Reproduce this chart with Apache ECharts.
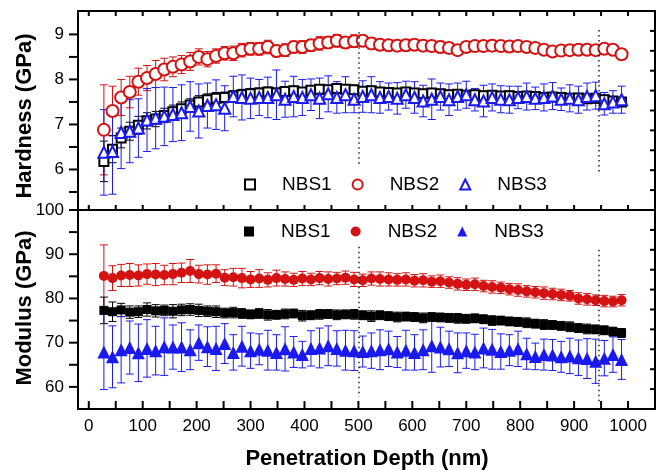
<!DOCTYPE html>
<html>
<head>
<meta charset="utf-8">
<script src="https://cdn.jsdelivr.net/npm/echarts@6/dist/echarts.min.js"></script>
<style>
html,body{margin:0;padding:0;background:#fff;}
#chart{width:660px;height:470px;}
</style>
</head>
<body>
<div id="chart"></div>
<script>
// ---------- data ----------
const depth = [28,44,60,76,92,108,124,140,156,172,
  188,204,220,236,252,268,284,300,316,332,
  348,364,380,396,412,428,444,460,476,492,
  508,524,540,556,572,588,604,620,636,652,
  668,684,700,716,732,748,764,780,796,812,
  828,844,860,876,892,908,924,940,956,972,988];

const hardnessNBS1 = [6.18,6.45,6.70,6.85,6.98,7.08,7.12,7.20,7.28,7.35,
  7.43,7.50,7.55,7.58,7.60,7.63,7.66,7.68,7.70,7.72,
  7.70,7.73,7.75,7.72,7.76,7.78,7.77,7.80,7.78,7.77,
  7.74,7.75,7.72,7.71,7.70,7.72,7.70,7.68,7.70,7.68,
  7.66,7.67,7.65,7.66,7.64,7.65,7.63,7.64,7.62,7.63,
  7.62,7.60,7.61,7.60,7.58,7.59,7.57,7.58,7.55,7.52,7.50];
const hardnessNBS1Err = [0.45,0.3,0.22,0.2,0.2,0.18,0.17,0.16,0.15,0.15,
  0.14,0.14,0.13,0.13,0.12,0.12,0.12,0.12,0.11,0.11,
  0.11,0.11,0.1,0.1,0.1,0.1,0.1,0.1,0.1,0.1,
  0.1,0.1,0.1,0.1,0.1,0.1,0.1,0.1,0.1,0.1,
  0.1,0.1,0.1,0.1,0.1,0.1,0.1,0.1,0.1,0.1,
  0.1,0.1,0.1,0.1,0.1,0.1,0.1,0.1,0.1,0.1,0.1];

const hardnessNBS2 = [6.88,7.30,7.60,7.72,7.95,8.03,8.12,8.22,8.28,8.33,
  8.40,8.50,8.45,8.52,8.58,8.58,8.65,8.68,8.68,8.72,
  8.63,8.65,8.72,8.72,8.76,8.80,8.82,8.86,8.82,8.85,
  8.86,8.80,8.77,8.76,8.75,8.76,8.77,8.75,8.74,8.72,
  8.70,8.65,8.72,8.74,8.74,8.75,8.74,8.73,8.74,8.72,
  8.70,8.66,8.62,8.64,8.65,8.66,8.66,8.65,8.68,8.66,8.56];
const hardnessNBS2Err = [1.0,0.55,0.4,0.35,0.3,0.28,0.3,0.25,0.22,0.2,
  0.2,0.18,0.17,0.16,0.15,0.16,0.15,0.14,0.14,0.15,
  0.13,0.14,0.13,0.14,0.13,0.15,0.13,0.14,0.13,0.14,
  0.12,0.13,0.12,0.12,0.12,0.13,0.12,0.12,0.12,0.13,
  0.12,0.11,0.12,0.12,0.11,0.12,0.11,0.12,0.11,0.11,
  0.12,0.11,0.11,0.1,0.11,0.11,0.1,0.11,0.1,0.1,0.1];

const hardnessNBS3 = [6.38,6.40,6.82,6.85,6.92,7.10,7.14,7.18,7.22,7.26,
  7.40,7.30,7.42,7.44,7.36,7.62,7.60,7.58,7.60,7.60,
  7.66,7.56,7.62,7.60,7.66,7.58,7.68,7.60,7.66,7.56,
  7.62,7.66,7.60,7.62,7.58,7.66,7.60,7.52,7.56,7.62,
  7.55,7.62,7.66,7.55,7.52,7.60,7.56,7.55,7.60,7.62,
  7.58,7.60,7.63,7.56,7.58,7.55,7.62,7.64,7.46,7.50,7.55];
const hardnessNBS3Err = [0.95,0.95,0.8,0.7,0.65,0.7,0.68,0.65,0.6,0.62,
  0.55,0.6,0.5,0.55,0.5,0.45,0.5,0.45,0.4,0.45,
  0.55,0.4,0.45,0.4,0.35,0.45,0.4,0.35,0.4,0.3,
  0.35,0.4,0.35,0.3,0.35,0.3,0.35,0.35,0.45,0.3,
  0.35,0.3,0.3,0.25,0.35,0.3,0.3,0.3,0.25,0.3,
  0.25,0.3,0.3,0.25,0.3,0.3,0.3,0.3,0.25,0.25,0.3];

const modulusNBS1 = [77.3,77.0,77.4,76.9,77.0,77.5,77.2,77.3,77.1,77.4,
  77.5,77.3,77.1,77.0,76.7,76.8,76.6,76.4,76.6,76.3,
  76.3,76.5,76.6,76.1,76.2,76.4,76.5,76.3,76.4,76.4,
  76.2,76.0,76.2,76.0,75.8,75.9,75.8,75.6,75.8,75.7,
  75.6,75.5,75.4,75.5,75.3,75.0,75.0,74.8,74.7,74.5,
  74.3,74.1,74.0,73.8,73.6,73.3,73.1,73.0,72.8,72.5,72.2];
const modulusNBS1Err = [3.0,2.2,1.5,1.4,1.3,1.5,1.4,1.2,1.5,1.3,
  1.3,1.4,1.2,1.3,1.1,1.2,1.1,1.0,1.1,1.2,
  1.0,1.1,1.0,1.2,1.0,1.1,1.0,1.1,1.0,1.1,
  1.0,1.2,1.0,1.0,1.1,1.0,1.0,1.1,1.0,1.0,
  1.0,1.1,1.0,1.0,1.0,1.1,1.0,1.0,1.0,1.1,
  1.0,1.1,1.0,1.0,1.1,1.0,1.1,1.0,1.0,1.0,1.0];

const modulusNBS2 = [85.1,84.6,85.2,85.3,85.2,85.5,85.4,85.3,85.5,85.8,
  86.2,85.5,85.4,85.6,84.7,84.8,84.6,84.3,84.5,84.2,
  84.6,84.4,84.2,84.5,84.3,84.6,84.4,84.5,84.7,84.3,
  84.1,84.5,84.4,84.3,84.2,84.3,84.0,84.1,83.8,83.9,
  83.6,83.3,83.1,83.2,82.8,82.6,82.4,82.1,81.9,81.6,
  81.4,81.2,81.0,80.8,80.6,80.0,79.8,79.6,79.4,79.3,79.6];
const modulusNBS2Err = [7.0,2.8,2.5,2.6,2.4,2.3,2.5,2.2,2.4,2.2,
  2.6,2.0,2.2,2.0,1.8,2.0,2.2,1.8,2.0,1.6,
  1.8,1.6,1.5,1.6,1.4,1.5,1.6,1.4,1.5,1.6,
  1.4,1.5,1.6,1.5,1.4,1.5,1.4,1.5,1.3,1.4,
  1.3,1.4,1.3,1.4,1.3,1.4,1.3,1.3,1.4,1.3,
  1.3,1.4,1.3,1.3,1.2,1.3,1.3,1.2,1.3,1.2,1.3];

const modulusNBS3 = [67.9,66.8,68.4,68.9,67.7,68.7,68.2,69.1,69.0,69.0,
  68.4,70.0,69.1,68.7,69.8,67.8,69.2,68.2,68.5,68.3,
  67.8,68.6,67.9,67.3,68.7,68.8,69.3,68.7,68.3,68.2,
  68.0,68.2,68.4,68.6,67.9,68.3,67.8,68.4,69.3,69.0,
  68.6,67.7,68.2,67.9,68.8,68.5,68.0,68.3,68.6,67.5,
  66.9,67.3,67.2,66.8,67.0,66.6,66.4,65.8,66.5,67.3,66.2];
const modulusNBS3Err = [8.5,7.0,7.5,6.0,6.5,6.5,5.5,6.5,5.0,5.5,
  4.5,4.0,4.5,5.0,4.5,4.0,4.5,4.0,3.5,4.5,
  4.0,5.0,3.5,3.0,4.0,4.5,4.5,4.0,4.5,4.5,
  3.5,4.0,4.5,4.0,3.5,4.5,4.0,4.5,6.0,4.5,
  4.0,4.5,4.0,4.0,4.5,4.5,4.0,3.5,4.0,3.5,
  3.0,3.5,3.5,3.5,4.0,4.0,4.5,5.0,4.0,4.0,4.5];

const xTickValues = [0,50,100,150,200,250,300,350,400,450,500,550,600,650,700,750,800,850,900,950,1000];
const xLabelValues = [0,100,200,300,400,500,600,700,800,900,1000];
const hardnessTicks = [5.5,6,6.5,7,7.5,8,8.5,9];
const hardnessLabels = [6,7,8,9];
const modulusTicks = [60,65,70,75,80,85,90,95,100];
const modulusLabels = [60,70,80,90,100];
const rightTicks = [1,2,3,4,5,6,7,8,9];
const refDepths = [500, 945];
const seriesNames = ['NBS1','NBS2','NBS3'];
const axisTitles = {x: 'Penetration Depth (nm)', hardness: 'Hardness (GPa)', modulus: 'Modulus (GPa)'};

// ---------- chart ----------
const FONT = "'Liberation Sans', Arial, sans-serif";
const RED = '#d41212', BLUE = '#1a1aee', BLACK = '#000000';
const chart = echarts.init(document.getElementById('chart'), null, {renderer: 'canvas'});

function pack(vals, errs) { return depth.map((d, i) => [d, vals[i], errs[i]]); }

function errRender(params, api) {
  const x = api.value(0), y = api.value(1), e = api.value(2);
  const hi = api.coord([x, y + e]);
  const lo = api.coord([x, y - e]);
  const cw = 4;
  const c = api.visual('color');
  return {type: 'group', children: [
    {type: 'line', shape: {x1: hi[0], y1: hi[1], x2: lo[0], y2: lo[1]}, style: {stroke: c, lineWidth: 1}},
    {type: 'line', shape: {x1: hi[0] - cw, y1: hi[1], x2: hi[0] + cw, y2: hi[1]}, style: {stroke: c, lineWidth: 1}},
    {type: 'line', shape: {x1: lo[0] - cw, y1: lo[1], x2: lo[0] + cw, y2: lo[1]}, style: {stroke: c, lineWidth: 1}}
  ]};
}

function errSeries(name, vals, errs, color, xi, yi) {
  return {name: name + '-err', type: 'custom', xAxisIndex: xi, yAxisIndex: yi,
    renderItem: errRender, data: pack(vals, errs), encode: {x: 0, y: 1},
    itemStyle: {color: color}, silent: true, z: 2};
}
function markSeries(name, vals, color, symbol, size, xi, yi, hollow) {
  return {name: name, type: 'scatter', xAxisIndex: xi, yAxisIndex: yi,
    data: depth.map((d, i) => [d, vals[i]]), symbol: symbol, symbolSize: size,
    itemStyle: hollow ? {color: color, borderColor: color, borderWidth: 1.2, opacity: 1} : {color: color, opacity: 1},
    silent: true, z: 3};
}
function refLines(xi, yi, ranges) {
  return {name: 'ref' + yi, type: 'scatter', xAxisIndex: xi, yAxisIndex: yi, data: [], silent: true,
    markLine: {symbol: 'none', silent: true, label: {show: false},
      lineStyle: {type: [1.5, 3.5], color: '#222', width: 1.5},
      data: refDepths.map((d, i) => [{coord: [d, ranges[i][0]]}, {coord: [d, ranges[i][1]]}])}};
}

// tick marks placed through the axes' own scales
function xTickSeries(xi, yi, yRef, len, drawTop) {
  return {type: 'custom', name: 'xt' + xi, xAxisIndex: xi, yAxisIndex: yi, silent: true, z: 6,
    clip: false, data: xTickValues.map(v => [v, yRef]), encode: {x: 0, y: 1},
    renderItem: function (params, api) {
      const cs = params.coordSys;
      const px = api.coord([api.value(0), api.value(1)])[0];
      const ch = [{type: 'line', shape: {x1: px, y1: cs.y + cs.height - len, x2: px, y2: cs.y + cs.height},
        style: {stroke: '#000', lineWidth: 2}}];
      if (drawTop) ch.push({type: 'line', shape: {x1: px, y1: cs.y, x2: px, y2: cs.y + len},
        style: {stroke: '#000', lineWidth: 2}});
      return {type: 'group', children: ch};
    }};
}
function yTickSeries(xi, yi, vals, len, right) {
  return {type: 'custom', name: 'yt' + yi, xAxisIndex: xi, yAxisIndex: yi, silent: true, z: 6,
    clip: false, data: vals.map(v => [500, v]), encode: {x: 0, y: 1},
    renderItem: function (params, api) {
      const cs = params.coordSys;
      const py = api.coord([api.value(0), api.value(1)])[1];
      const x1 = right ? cs.x + cs.width - len : cs.x - len;
      const x2 = right ? cs.x + cs.width : cs.x;
      return {type: 'line', shape: {x1: x1, y1: py, x2: x2, y2: py}, style: {stroke: '#000', lineWidth: 2}};
    }};
}

function xAx(grid, pos, labels) {
  return {type: 'value', gridIndex: grid, position: pos, min: -20, max: 1050,
    axisLine: {show: true, onZero: false, lineStyle: {color: '#000', width: 2}},
    splitLine: {show: false}, axisTick: {show: false},
    axisLabel: labels ? {show: true, customValues: xLabelValues, fontSize: 17, color: '#000',
      fontFamily: FONT, margin: 9, formatter: v => String(v)} : {show: false}};
}
function yLeft(grid, min, max, labels) {
  return {type: 'value', gridIndex: grid, position: 'left', min: min, max: max,
    axisLine: {show: true, onZero: false, lineStyle: {color: '#000', width: 2}},
    splitLine: {show: false}, axisTick: {show: false},
    axisLabel: {show: true, customValues: labels, fontSize: 17, color: '#000', fontFamily: FONT,
      margin: 14, formatter: v => String(v)}};
}
function yRight(grid) {
  return {type: 'value', gridIndex: grid, position: 'right', min: 0, max: 10, interval: 1,
    axisLine: {show: true, onZero: false, lineStyle: {color: '#000', width: 2}},
    splitLine: {show: false}, axisTick: {show: false}, axisLabel: {show: false}};
}

function legendFor(prefix, top) {
  return {top: top, left: 244, padding: 0, orient: 'horizontal', itemWidth: 10, itemHeight: 10, itemGap: 20,
    data: seriesNames.map(n => prefix + n),
    formatter: n => n.slice(prefix.length),
    textStyle: {fontSize: 19, color: '#000', fontFamily: FONT, padding: [0, 0, 0, 22]},
    selectedMode: false};
}

function titleText(text, x, y, rot) {
  return {type: 'text', x: x, y: y, rotation: rot, silent: true,
    style: {text: text, fill: '#000', font: "bold 22px 'Liberation Sans', Arial, sans-serif",
      align: 'center', verticalAlign: 'middle'}};
}

const series = [
  errSeries('H-NBS2', hardnessNBS2, hardnessNBS2Err, RED, 0, 0),
  markSeries('H-NBS2', hardnessNBS2, RED, 'emptyCircle', 12, 0, 0, true),
  errSeries('H-NBS1', hardnessNBS1, hardnessNBS1Err, BLACK, 0, 0),
  markSeries('H-NBS1', hardnessNBS1, BLACK, 'emptyRect', 9, 0, 0, true),
  errSeries('H-NBS3', hardnessNBS3, hardnessNBS3Err, BLUE, 0, 0),
  markSeries('H-NBS3', hardnessNBS3, BLUE, 'emptyTriangle', 11, 0, 0, true),
  errSeries('M-NBS2', modulusNBS2, modulusNBS2Err, RED, 2, 2),
  markSeries('M-NBS2', modulusNBS2, RED, 'circle', 10, 2, 2, false),
  errSeries('M-NBS1', modulusNBS1, modulusNBS1Err, BLACK, 2, 2),
  markSeries('M-NBS1', modulusNBS1, BLACK, 'rect', 9, 2, 2, false),
  errSeries('M-NBS3', modulusNBS3, modulusNBS3Err, BLUE, 2, 2),
  markSeries('M-NBS3', modulusNBS3, BLUE, 'triangle', 13, 2, 2, false),
  refLines(0, 0, [[9.05, 6.1], [9.1, 5.95]]),
  refLines(2, 2, [[91.7, 57.7], [91.0, 56.3]]),
  xTickSeries(0, 0, 7, 5, true),
  xTickSeries(2, 2, 70, 8, false),
  yTickSeries(0, 0, hardnessTicks, 9, false),
  yTickSeries(2, 2, modulusTicks, 9, false),
  yTickSeries(0, 1, rightTicks, 5, true),
  yTickSeries(2, 3, rightTicks, 5, true)
];

chart.setOption({
  animation: false,
  backgroundColor: '#ffffff',
  textStyle: {fontFamily: FONT},
  grid: [
    {left: 78, top: 11, width: 577, height: 199},
    {left: 78, top: 210, width: 577, height: 199}
  ],
  legend: [legendFor('H-', 175), legendFor('M-', 222)],
  xAxis: [
    xAx(0, 'bottom', false),
    xAx(0, 'top', false),
    xAx(1, 'bottom', true)
  ],
  yAxis: [
    yLeft(0, 5.1, 9.52, hardnessLabels),
    yRight(0),
    yLeft(1, 55, 100, modulusLabels),
    yRight(1)
  ],
  graphic: [
    titleText(axisTitles.x, 367, 459, 0),
    titleText(axisTitles.hardness, 25, 116, Math.PI / 2),
    titleText(axisTitles.modulus, 25, 308, Math.PI / 2)
  ],
  series: series
});
</script>
</body>
</html>
